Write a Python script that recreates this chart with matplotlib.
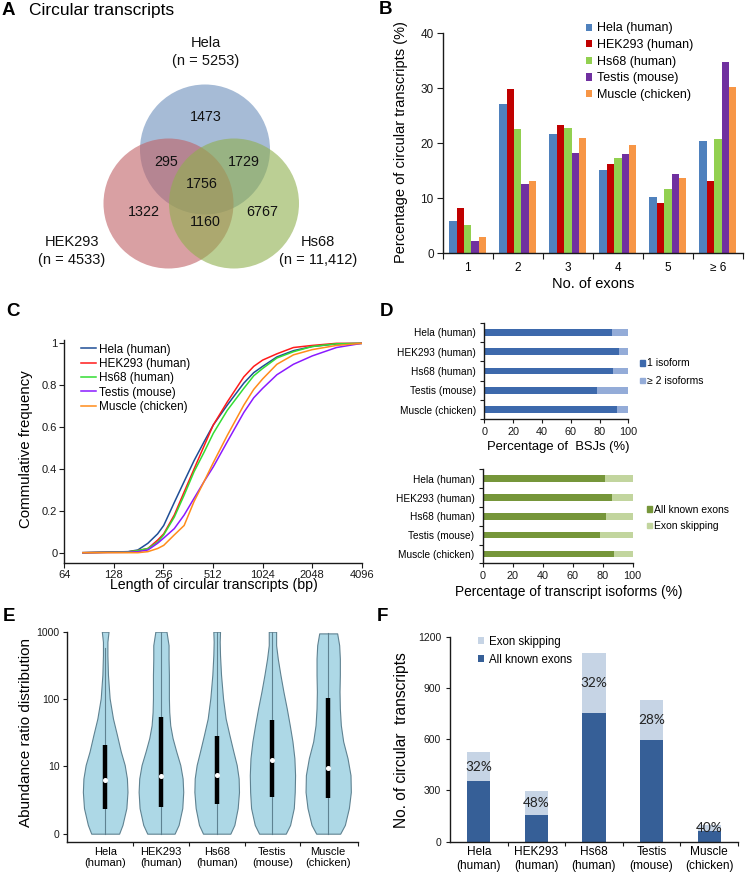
import matplotlib
matplotlib.use('Agg')
import matplotlib.pyplot as plt
import numpy as np
from matplotlib.patches import Circle, Patch

plt.rcParams['font.family'] = ['Liberation Sans', 'DejaVu Sans']
plt.rcParams['axes.linewidth'] = 1.0

# ---------------- data ----------------
# Panel A (Venn)
venn_names = ['Hela', 'HEK293', 'Hs68']
venn_totals = ['5253', '4533', '11,412']
venn_region_counts = [1473, 295, 1729, 1756, 1322, 1160, 6767]

# Panel B
exon_categories = ['1', '2', '3', '4', '5', '\u2265 6']
samples = ['Hela (human)', 'HEK293 (human)', 'Hs68 (human)', 'Testis (mouse)', 'Muscle (chicken)']
exon_hela = [5.85, 27.1, 21.6, 15.2, 10.2, 20.4]
exon_hek293 = [8.2, 29.9, 23.4, 16.3, 9.2, 13.2]
exon_hs68 = [5.2, 22.6, 22.7, 17.4, 11.6, 20.8]
exon_testis = [2.3, 12.6, 18.3, 18.0, 14.4, 34.8]
exon_muscle = [2.9, 13.1, 20.9, 19.7, 13.7, 30.2]

# Panel C (cumulative frequency vs length)
length_bp = [83, 156, 179, 206, 236, 257, 298, 342, 393, 452, 514, 625, 788, 905, 1025, 1251, 1577, 2052, 2878, 4096]
cdf_hela = [0, 0.005, 0.013, 0.045, 0.09, 0.13, 0.24, 0.34, 0.44, 0.53, 0.61, 0.705, 0.81, 0.86, 0.89, 0.935, 0.965, 0.985, 0.997, 1.0]
cdf_hek293 = [0, 0.004, 0.01, 0.02, 0.06, 0.09, 0.18, 0.29, 0.40, 0.51, 0.61, 0.72, 0.84, 0.89, 0.92, 0.95, 0.98, 0.99, 1.0, 1.0]
cdf_hs68 = [0, 0.004, 0.01, 0.02, 0.05, 0.085, 0.17, 0.275, 0.387, 0.48, 0.57, 0.68, 0.785, 0.845, 0.88, 0.93, 0.96, 0.985, 0.998, 1.0]
cdf_testis = [0, 0.002, 0.005, 0.013, 0.045, 0.07, 0.115, 0.18, 0.26, 0.34, 0.41, 0.53, 0.67, 0.74, 0.785, 0.85, 0.90, 0.94, 0.98, 1.0]
cdf_muscle = [0, 0.0, 0.0, 0.005, 0.02, 0.035, 0.085, 0.13, 0.245, 0.34, 0.43, 0.56, 0.705, 0.78, 0.83, 0.90, 0.945, 0.97, 0.99, 1.0]

# Panel D
bsj_one_isoform = [88.9, 93.5, 89.4, 78.5, 92.4]
iso_all_known = [81.6, 86.4, 82.2, 78.2, 87.8]

# Panel E (violin outlines: log10 level, half width in category units)
short_labels = ['Hela\n(human)', 'HEK293\n(human)', 'Hs68\n(human)', 'Testis\n(mouse)', 'Muscle\n(chicken)']
vio_levels = [
    [0, 0.13, 0.38, 0.62, 0.82, 1.02, 1.22, 1.47, 1.71, 2.01, 2.36, 2.65, 2.85, 3.0],
    [0, 0.13, 0.38, 0.62, 0.82, 1.02, 1.22, 1.42, 1.61, 1.81, 2.01, 2.36, 2.6, 2.8, 3.0],
    [0, 0.13, 0.38, 0.62, 0.82, 1.02, 1.22, 1.47, 1.71, 2.01, 2.36, 2.65, 2.85, 3.0],
    [0, 0.13, 0.38, 0.62, 0.87, 1.12, 1.37, 1.61, 1.86, 2.11, 2.36, 2.6, 2.8, 3.0],
    [0, 0.13, 0.38, 0.62, 0.87, 1.12, 1.37, 1.61, 1.86, 2.11, 2.36, 2.6, 2.8, 2.975],
]
vio_halfwidth = [
    [0.25, 0.31, 0.38, 0.40, 0.39, 0.35, 0.28, 0.21, 0.14, 0.08, 0.05, 0.04, 0.04, 0.06],
    [0.245, 0.317, 0.383, 0.40, 0.389, 0.347, 0.275, 0.209, 0.167, 0.149, 0.143, 0.143, 0.137, 0.137, 0.10],
    [0.245, 0.317, 0.377, 0.40, 0.394, 0.359, 0.299, 0.227, 0.161, 0.114, 0.078, 0.06, 0.054, 0.06],
    [0.239, 0.317, 0.383, 0.40, 0.406, 0.394, 0.359, 0.311, 0.257, 0.197, 0.143, 0.096, 0.066, 0.066],
    [0.215, 0.299, 0.371, 0.406, 0.40, 0.347, 0.269, 0.227, 0.209, 0.203, 0.209, 0.209, 0.197, 0.161],
]
vio_q1 = [2.3, 2.46, 2.8, 3.54, 3.4]
vio_q3 = [20.7, 54.7, 28.5, 48.7, 102]
vio_median = [6.2, 7.2, 7.5, 12.5, 9.5]
vio_whisker_top = [565, 1000, 1000, 1000, 944]

# Panel F
f_all_known = [357, 156, 751, 595, 60]
f_exon_skip = [166, 142, 353, 232, 40]
f_pct = ['32%', '48%', '32%', '28%', '40%']

# ---------------- layout helpers ----------------
W, H = 745, 876
fig = plt.figure(figsize=(W / 100, H / 100), dpi=100)


def add_ax(l, t, r, b):
    return fig.add_axes([l / W, 1 - b / H, (r - l) / W, (b - t) / H])


def ftext(x, y, s, **kw):
    return fig.text(x / W, 1 - y / H, s, **kw)


def clean(ax):
    for s in ['top', 'right']:
        ax.spines[s].set_visible(False)
    for s in ['left', 'bottom']:
        ax.spines[s].set_color('#1a1a1a')
        ax.spines[s].set_linewidth(1.0)
    ax.tick_params(colors='#1a1a1a', direction='out', width=0.8)


# ---------------- Panel A ----------------
axA = add_ax(0, 0, 370, 290)
axA.set_xlim(0, 370)
axA.set_ylim(290, 0)
axA.axis('off')
circ_pos = [(205, 149.5), (168.5, 203.5), (234, 203.5)]
circ_col = ['#6b8ebb', '#c06166', '#8faf4d']
for (cx, cy), col in zip(circ_pos, circ_col):
    axA.add_patch(Circle((cx, cy), 65, facecolor=col, alpha=0.6, edgecolor='none'))
region_pos = [(205.7, 116.7), (165.7, 162.3), (244.3, 162.3), (202.3, 184.3),
              (144, 211.7), (205, 222.3), (262.3, 211.7)]
for (x, y), n in zip(region_pos, venn_region_counts):
    axA.text(x, y, str(n), ha='center', va='center', fontsize=10.3, color='#111')
name_pos = [(205.5, 43.3), (71.7, 242.3), (318, 242.3)]
for (x, y), nm, tot in zip(name_pos, venn_names, venn_totals):
    axA.text(x, y, nm, ha='center', va='center', fontsize=10.5, color='#111')
    axA.text(x, y + 17.7, '(n = %s)' % tot, ha='center', va='center', fontsize=10.5, color='#111')
ftext(2, 10.5, 'A', fontsize=13.5, fontweight='bold', ha='left', va='center')
ftext(29, 10.5, 'Circular transcripts', fontsize=12.5, ha='left', va='center')

# ---------------- Panel B ----------------
axB = add_ax(442.7, 33.3, 743.0, 253.3)
clean(axB)
b_series = [exon_hela, exon_hek293, exon_hs68, exon_testis, exon_muscle]
b_colors = ['#4f81bd', '#c00000', '#92d050', '#7030a0', '#f79646']
bw = 0.148
xc = np.arange(len(exon_categories))
for i, (vals, col, lab) in enumerate(zip(b_series, b_colors, samples)):
    axB.bar(xc + (i - 2) * bw, vals, width=bw, color=col, label=lab, linewidth=0)
axB.set_xlim(-0.5, 5.5)
axB.set_ylim(0, 40)
axB.set_yticks([0, 10, 20, 30, 40])
axB.set_xticks(np.arange(-0.5, 6.0, 1.0))
axB.set_xticklabels([])
axB.set_xticks(xc, minor=True)
axB.set_xticklabels(exon_categories, minor=True)
axB.tick_params(axis='x', which='minor', length=0, pad=6, labelsize=8.5)
axB.tick_params(axis='x', which='major', length=4)
axB.tick_params(axis='y', length=4, pad=2.5, labelsize=8.5)
axB.legend(loc='upper left', bbox_to_anchor=(586 / W, 1 - 22.5 / H), bbox_transform=fig.transFigure,
           frameon=False, fontsize=9, handlelength=0.5, handleheight=0.5, handletextpad=0.4,
           labelspacing=0.37, borderpad=0, borderaxespad=0)
ftext(386, 9.7, 'B', fontsize=13.5, fontweight='bold', ha='center', va='center')
ftext(401, 142, 'Percentage of circular transcripts (%)', fontsize=10.5, rotation=90, ha='center', va='center')
ftext(593, 284.5, 'No. of exons', fontsize=10.5, ha='center', va='center')

# ---------------- Panel C ----------------
axC = add_ax(64.3, 340.2, 361.7, 562.7)
clean(axC)
c_series = [cdf_hela, cdf_hek293, cdf_hs68, cdf_testis, cdf_muscle]
c_colors = ['#1f4e96', '#ff1a1a', '#33dd33', '#8a1aff', '#ff8c1a']
for vals, col, lab in zip(c_series, c_colors, samples):
    axC.plot(length_bp, vals, color=col, lw=1.1, label=lab)
axC.set_xscale('log', base=2)
axC.set_xlim(64, 4096)
axC.set_ylim(-0.0478, 1.015)
c_ticks = [64, 128, 256, 512, 1024, 2048, 4096]
axC.set_xticks(c_ticks)
axC.set_xticklabels([str(t) for t in c_ticks])
axC.xaxis.set_minor_locator(matplotlib.ticker.NullLocator())
axC.set_yticks([0, 0.2, 0.4, 0.6, 0.8, 1.0])
axC.set_yticklabels(['0', '0.2', '0.4', '0.6', '0.8', '1'])
axC.tick_params(axis='both', length=3.5, labelsize=8)
axC.tick_params(axis='x', pad=1.5)
axC.tick_params(axis='y', pad=1.5)
axC.legend(loc='upper left', bbox_to_anchor=(80.5 / W, 1 - 343.5 / H), bbox_transform=fig.transFigure,
           frameon=False, fontsize=8.5, handlelength=1.33, handletextpad=0.2,
           labelspacing=0.2, borderpad=0, borderaxespad=0)
ftext(13, 311.5, 'C', fontsize=13.5, fontweight='bold', ha='center', va='center')
ftext(26, 449, 'Commulative frequency', fontsize=10.8, rotation=90, ha='center', va='center')
ftext(214, 585, 'Length of circular transcripts (bp)', fontsize=10.2, ha='center', va='center')

# ---------------- Panel D ----------------
def hbar_panel(ax, vals, dark, light):
    clean(ax)
    y = np.arange(len(samples))
    rest = [100 - v for v in vals]
    ax.barh(y, vals, height=0.36, color=dark, linewidth=0)
    ax.barh(y, rest, left=vals, height=0.36, color=light, linewidth=0)
    ax.set_xlim(0, 100)
    ax.set_ylim(4.5, -0.5)
    ax.set_xticks([0, 20, 40, 60, 80, 100])
    ax.set_yticks(np.arange(-0.5, 5.0, 1.0))
    ax.set_yticklabels([])
    ax.set_yticks(y, minor=True)
    ax.set_yticklabels(samples, minor=True)
    ax.tick_params(axis='y', which='major', length=3)
    ax.tick_params(axis='y', which='minor', length=0, pad=6, labelsize=7.3)
    ax.tick_params(axis='x', length=3, pad=2.5, labelsize=7.8)


axD1 = add_ax(484.3, 322.7, 628.3, 419.3)
d1_dark, d1_light = '#3d69ac', '#94acd8'
hbar_panel(axD1, bsj_one_isoform, d1_dark, d1_light)
axD1.legend(handles=[Patch(color=d1_dark, label='1 isoform'), Patch(color=d1_light, label='\u2265 2 isoforms')],
            loc='upper left', bbox_to_anchor=(640 / W, 1 - 358.5 / H), bbox_transform=fig.transFigure,
            frameon=False, fontsize=7.5, handlelength=0.45, handleheight=0.45, handletextpad=0.25,
            labelspacing=0.75, borderpad=0, borderaxespad=0)

axD2 = add_ax(482.7, 469.3, 632.7, 563.3)
d2_dark, d2_light = '#76963a', '#c2d59e'
hbar_panel(axD2, iso_all_known, d2_dark, d2_light)
axD2.legend(handles=[Patch(color=d2_dark, label='All known exons'), Patch(color=d2_light, label='Exon skipping')],
            loc='upper left', bbox_to_anchor=(647 / W, 1 - 505 / H), bbox_transform=fig.transFigure,
            frameon=False, fontsize=7.5, handlelength=0.45, handleheight=0.45, handletextpad=0.25,
            labelspacing=0.6, borderpad=0, borderaxespad=0)
ftext(386.7, 311.7, 'D', fontsize=13.5, fontweight='bold', ha='center', va='center')
ftext(558.7, 446.7, 'Percentage of  BSJs (%)', fontsize=9.4, ha='center', va='center')
ftext(568.3, 591.7, 'Percentage of transcript isoforms (%)', fontsize=9.9, ha='center', va='center')

# ---------------- Panel E ----------------
axE = add_ax(66.7, 631.7, 358.3, 841.7)
clean(axE)
vio_face, vio_edge = '#add8e6', '#5f8291'
for i in range(len(short_labels)):
    lv = np.array(vio_levels[i])
    hw = np.array(vio_halfwidth[i])
    axE.fill_betweenx(10 ** lv, i - hw, i + hw, facecolor=vio_face, edgecolor=vio_edge, linewidth=0.8, zorder=2)
    axE.plot([i, i], [1, vio_whisker_top[i]], color=vio_edge, lw=0.8, zorder=3)
    axE.plot([i, i], [vio_q1[i], vio_q3[i]], color='black', lw=3.2, solid_capstyle='butt', zorder=4)
    axE.plot([i], [vio_median[i]], marker='o', ms=2.6, mfc='white', mec='white', zorder=5)
axE.set_yscale('log')
axE.set_ylim(10 ** -0.119, 1000)
axE.set_xlim(-0.69, 4.54)
axE.set_yticks([1, 10, 100, 1000])
axE.set_yticklabels(['0', '10', '100', '1000'])
axE.yaxis.set_minor_locator(matplotlib.ticker.NullLocator())
axE.set_xticks([0.5, 1.5, 2.5, 3.5, 4.54])
axE.set_xticklabels([])
axE.set_xticks(np.arange(5), minor=True)
axE.set_xticklabels(short_labels, minor=True, linespacing=1.15)
axE.tick_params(axis='x', which='minor', length=0, pad=4, labelsize=8)
axE.tick_params(axis='x', which='major', length=3)
axE.tick_params(axis='y', length=3, pad=2, labelsize=7.5)
ftext(9, 616.7, 'E', fontsize=13.5, fontweight='bold', ha='center', va='center')
ftext(26.3, 732.5, 'Abundance ratio distribution', fontsize=11, rotation=90, ha='center', va='center')

# ---------------- Panel F ----------------
axF = add_ax(450, 636.7, 738, 841.7)
clean(axF)
f_dark, f_light = '#365f97', '#c6d4e5'
xf = np.arange(len(short_labels))
axF.bar(xf, f_all_known, width=0.4, color=f_dark, linewidth=0, label='All known exons')
axF.bar(xf, f_exon_skip, width=0.4, bottom=f_all_known, color=f_light, linewidth=0, label='Exon skipping')
for x, d, s, p in zip(xf, f_all_known, f_exon_skip, f_pct):
    axF.text(x, d + s / 2, p, ha='center', va='center', fontsize=9.8, family=['Lato', 'DejaVu Sans'], color='#222')
axF.set_xlim(-0.5, 4.5)
axF.set_ylim(0, 1200)
axF.set_yticks([0, 300, 600, 900, 1200])
axF.set_xticks([0.5, 1.5, 2.5, 3.5, 4.5])
axF.set_xticklabels([])
axF.set_xticks(xf, minor=True)
axF.set_xticklabels(short_labels, minor=True, linespacing=1.2)
axF.tick_params(axis='x', which='minor', length=0, pad=3, labelsize=8.6)
axF.tick_params(axis='x', which='major', length=3)
axF.tick_params(axis='y', length=3, pad=3.5, labelsize=7.5)
hF, lF = axF.get_legend_handles_labels()
axF.legend(hF[::-1], lF[::-1], loc='upper left', bbox_to_anchor=(477.5 / W, 1 - 635.5 / H),
           bbox_transform=fig.transFigure, frameon=False, fontsize=8.3, handlelength=0.55,
           handleheight=0.55, handletextpad=0.45, labelspacing=0.55, borderpad=0, borderaxespad=0)
ftext(382.5, 616.7, 'F', fontsize=13.5, fontweight='bold', ha='center', va='center')
ftext(401.7, 740, 'No. of circular  transcripts', fontsize=11.2, rotation=90, ha='center', va='center')

fig.savefig('out.png', dpi=100)
